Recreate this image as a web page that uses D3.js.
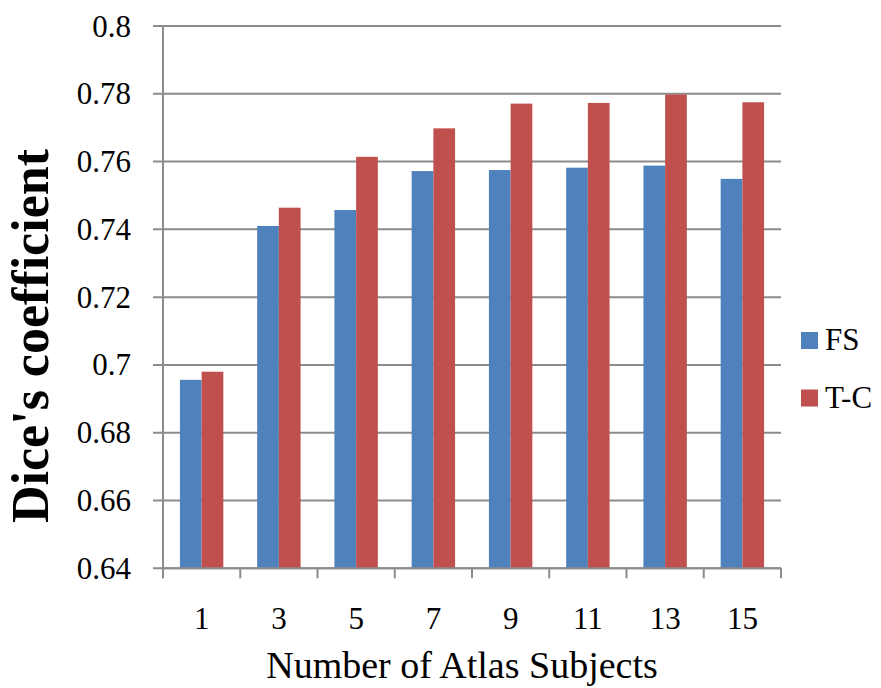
<!DOCTYPE html>
<html><head><meta charset="utf-8">
<script src="https://cdn.jsdelivr.net/npm/d3@7"></script>
<style>body{margin:0;background:#fff}svg{display:block}</style>
</head><body>
<script>
const categories = ["1","3","5","7","9","11","13","15"];
const seriesNames = ["FS","T-C"];
const fsValues = [0.6956,0.7410,0.7457,0.7572,0.7575,0.7582,0.7588,0.7549];
const tcValues = [0.6980,0.7464,0.7614,0.7698,0.7771,0.7773,0.7798,0.7775];
const yTicks = [0.64,0.66,0.68,0.70,0.72,0.74,0.76,0.78,0.80];
const yTickLabels = ["0.64","0.66","0.68","0.7","0.72","0.74","0.76","0.78","0.8"];
const colors = ["#4F81BD","#C0504D"];

(function(){
const W=881,H=688;
const svg=d3.select("body").append("svg").attr("width",W).attr("height",H);
const mLeft=163,mRight=781,mTop=26,mBottom=568.3;
const x=d3.scaleBand().domain(categories).range([mLeft,mRight]).paddingInner(0.438).paddingOuter(0.219);
const xs=d3.scaleBand().domain(seriesNames).range([0,x.bandwidth()]);
const y=d3.scaleLinear().domain([0.64,0.8]).range([mBottom,mTop]);
const font="'Liberation Serif','Times New Roman',serif";
const grey="#8c8c8c";

svg.append("g").selectAll("line").data(yTicks).join("line")
  .attr("x1",mLeft-10).attr("x2",mRight).attr("y1",d=>y(d)).attr("y2",d=>y(d))
  .attr("stroke",grey).attr("stroke-width",2);
svg.append("line").attr("x1",mLeft).attr("x2",mLeft).attr("y1",mTop).attr("y2",mBottom+10)
  .attr("stroke",grey).attr("stroke-width",2);
svg.append("g").selectAll("text").data(yTicks).join("text")
  .attr("x",mLeft-32).attr("y",d=>y(d)+10.5).attr("text-anchor","end")
  .attr("font-family",font).attr("font-size",31).attr("fill","#000")
  .text((d,i)=>yTickLabels[i]);

const data=categories.map((c,i)=>({c,vals:[fsValues[i],tcValues[i]]}));
const g=svg.append("g").selectAll("g").data(data).join("g").attr("transform",d=>`translate(${x(d.c)},0)`);
g.selectAll("rect").data(d=>d.vals.map((v,j)=>({v,s:seriesNames[j],j}))).join("rect")
  .attr("x",d=>xs(d.s)).attr("width",xs.bandwidth())
  .attr("y",d=>y(d.v)).attr("height",d=>mBottom-y(d.v)).attr("fill",d=>colors[d.j]);

svg.append("line").attr("x1",mLeft).attr("x2",mRight).attr("y1",mBottom).attr("y2",mBottom)
  .attr("stroke",grey).attr("stroke-width",2);
const step=x.step();
const bounds=d3.range(categories.length+1).map(i=>mLeft+i*step);
svg.append("g").selectAll("line").data(bounds).join("line")
  .attr("x1",d=>d).attr("x2",d=>d).attr("y1",mBottom).attr("y2",mBottom+10)
  .attr("stroke",grey).attr("stroke-width",2);
svg.append("g").selectAll("text").data(categories).join("text")
  .attr("x",d=>x(d)+x.bandwidth()/2).attr("y",629).attr("text-anchor","middle")
  .attr("font-family",font).attr("font-size",31).attr("fill","#000").text(d=>d);

svg.append("text").attr("x",462).attr("y",678).attr("text-anchor","middle")
  .attr("font-family",font).attr("font-size",38).attr("fill","#000").text("Number of Atlas Subjects");
svg.append("text").attr("transform",`translate(48,336) rotate(-90)`).attr("text-anchor","middle")
  .attr("font-family",font).attr("font-size",52).attr("font-weight","bold").attr("fill","#000").text("Dice's coefficient");

const lg=svg.append("g").selectAll("g").data(seriesNames).join("g")
  .attr("transform",(d,i)=>`translate(801,${332+i*57.5})`);
lg.append("rect").attr("width",17).attr("height",17).attr("fill",(d,i)=>colors[i]);
lg.append("text").attr("x",24).attr("y",18).attr("font-family",font).attr("font-size",31).attr("fill","#000").text(d=>d);
})();
</script>
</body></html>
